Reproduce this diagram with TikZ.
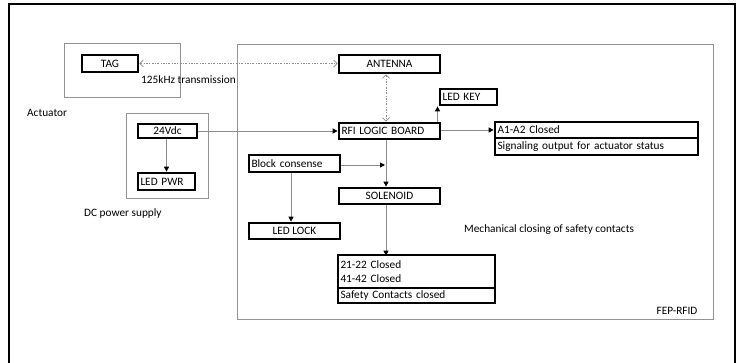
\documentclass[tikz,border=0pt]{standalone}
\usepackage{fontspec}
\setmainfont{Carlito}
\usetikzlibrary{arrows.meta}
\tikzset{
  bx/.style={draw=black, line width=2.7pt, inner xsep=2pt, inner ysep=0pt, font=\fontsize{11.3}{13}\selectfont, anchor=center},
  lbox/.style={bx, align=left},
  cbox/.style={bx, align=center},
  grp/.style={draw=gray!85, line width=0.9pt},
  conn/.style={draw=gray!90, line width=0.9pt, -{Triangle[length=5pt,width=5pt,fill=black,color=black]}},
  radio/.style={draw=gray!90, line width=0.8pt, dash pattern=on 2pt off 1.5pt on 0.6pt off 1.5pt, {Straight Barb[length=3.5pt,width=7pt]}-{Straight Barb[length=3.5pt,width=7pt]}},
  lbl/.style={font=\fontsize{11.3}{13}\selectfont, inner sep=0pt}
}
\begin{document}
\begin{tikzpicture}[x=1pt,y=-1pt]
\useasboundingbox (0,0) rectangle (738,362);
% outer frame (open at the bottom)
\draw[line width=2.6pt] (9,370) -- (9,4) -- (735,4) -- (735,370);
% group frames
\draw[grp] (64,43) rectangle (180,97);
\draw[grp] (126,113) rectangle (208,198);
\draw[grp] (237,44) rectangle (713,319);
% boxes
\node[cbox, minimum width=56, minimum height=17] (tag) at (110,63.5) {TAG};
\node[cbox, minimum width=101, minimum height=18] (ant) at (389.5,64) {ANTENNA};
\node[lbox, minimum width=101, minimum height=16, text width=96] (rfi) at (389.5,131) {RFI LOGIC BOARD};
\node[lbox, minimum width=57, minimum height=16, text width=52] (key) at (468.5,97) {LED KEY};
\node[lbox, minimum width=203, minimum height=16, text width=198] (a1) at (596.5,130) {A1-A2 Closed};
\node[lbox, minimum width=203, minimum height=17, text width=198] (sig) at (596.5,146.5) {Signaling output for actuator status};
\node[cbox, minimum width=59, minimum height=14] (v24) at (167.5,131) {24Vdc};
\node[lbox, minimum width=57, minimum height=17, text width=52] (pwr) at (166.5,181.5) {LED PWR};
\node[lbox, minimum width=91, minimum height=17, text width=86] (blk) at (294.5,163.5) {Block consense};
\node[cbox, minimum width=91, minimum height=16] (lock) at (294.5,231) {LED LOCK};
\node[cbox, minimum width=101, minimum height=16] (sol) at (389.5,196) {SOLENOID};
\node[lbox, minimum width=157, minimum height=33, text width=152, font=\fontsize{11.3}{14.5}\selectfont] (c21) at (416.5,271.5) {21-22 Closed\\41-42 Closed};
\node[lbox, minimum width=157, minimum height=15, text width=152] (saf) at (416.5,295.5) {Safety Contacts closed};
% labels
\node[lbl, anchor=west] (t125) at (141,80) {125kHz transmission};
\node[lbl, anchor=west] (act) at (27,113) {Actuator};
\node[lbl, anchor=west] (dc) at (84,213) {DC power supply};
\node[lbl, anchor=west] (mech) at (464,230) {Mechanical closing of safety contacts};
\node[lbl] (fep) at (677,311) {FEP-RFID};
% helper coordinates
\coordinate (spine) at (386,0);
\coordinate (lockx) at (291,0);
\coordinate (pwrx) at (166.5,0);
\coordinate (keyx) at (437.5,0);
% connectors
\draw[radio] (tag.east) -- (ant.west |- tag.east);
\draw[radio] (ant.south -| spine) -- (rfi.north -| spine);
\draw[conn] (v24.east) -- (rfi.west |- v24.east);
\draw[conn] (rfi.east |- a1.west) -- (a1.west);
\draw[conn] (rfi.north -| keyx) -- (key.south -| keyx);
\draw[conn] (rfi.south -| spine) -- (sol.north -| spine);
\draw[conn] ([yshift=-1.5pt]blk.east) -- ([xshift=-1pt,yshift=-1.5pt]blk.east -| spine);
\draw[conn] (blk.south -| lockx) -- (lock.north -| lockx);
\draw[conn] (v24.south -| pwrx) -- (pwr.north -| pwrx);
\draw[conn] (sol.south -| spine) -- ([yshift=-2pt]c21.north -| spine);
\end{tikzpicture}
\end{document}
